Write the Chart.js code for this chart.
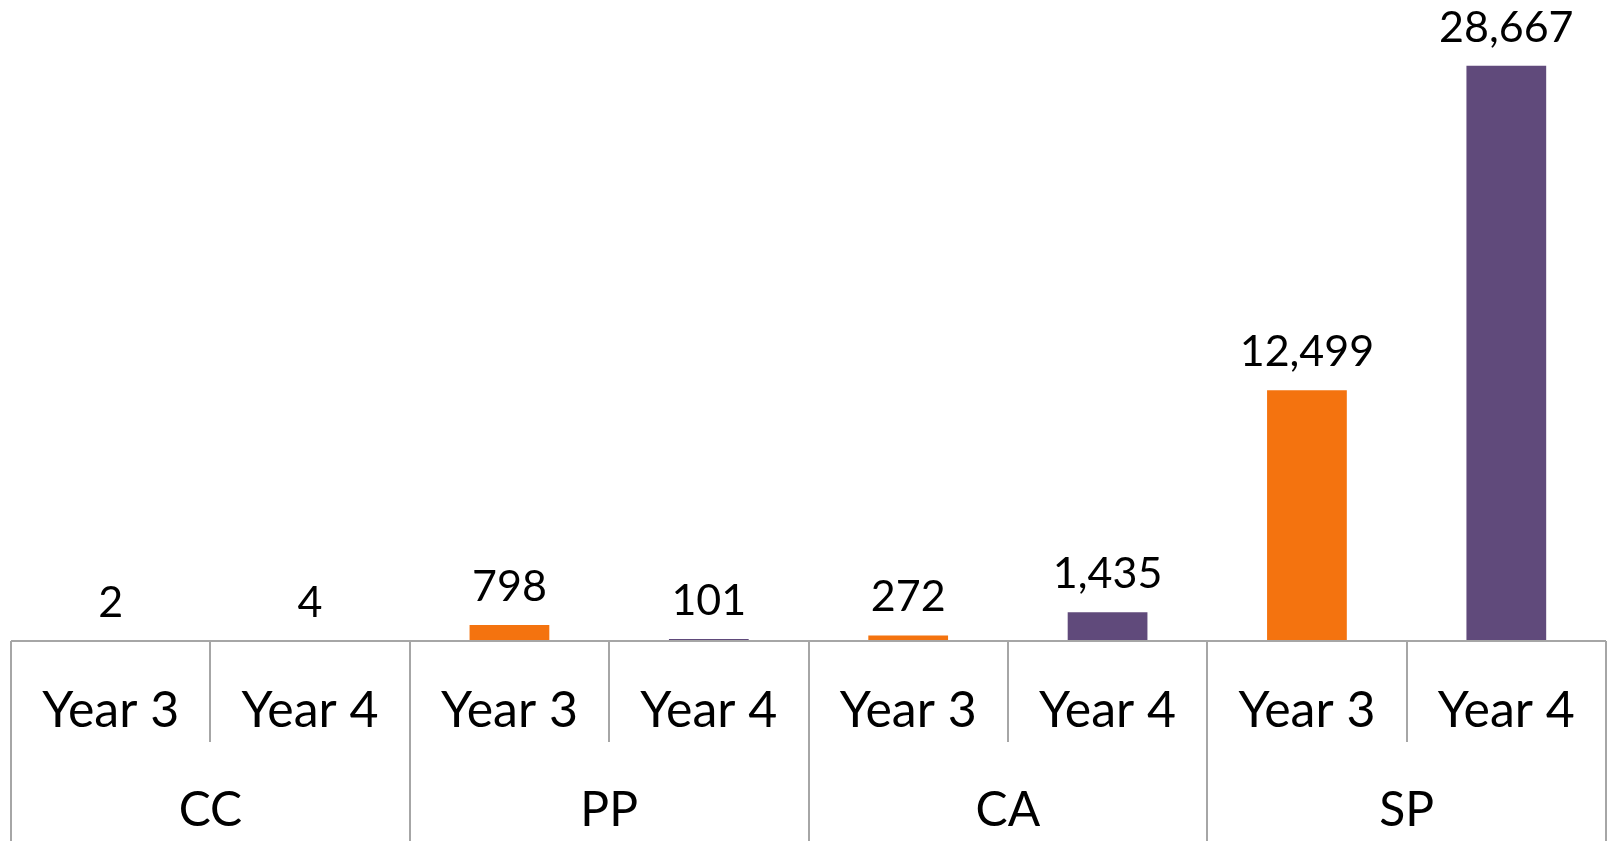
<!DOCTYPE html>
<html>
<head>
<meta charset="utf-8">
<script src="https://cdn.jsdelivr.net/npm/chart.js@4/dist/chart.umd.min.js"></script>
<style>
  html, body { margin: 0; padding: 0; background: #fff; }
  #wrap { width: 1608px; height: 841px; position: relative; }
</style>
</head>
<body>
<div id="wrap"><canvas id="chart"></canvas></div>
<script>
// groups and the two years shown under each
const groups = ['CC', 'PP', 'CA', 'SP'];
const years = ['Year 3', 'Year 4'];
const year3 = [2, 798, 272, 12499];
const year4 = [4, 101, 1435, 28667];

// one category per group/year pair
const labels = [];
const year3Data = [];
const year4Data = [];
groups.forEach((g, i) => {
    labels.push(years[0]); year3Data.push(year3[i]); year4Data.push(null);
    labels.push(years[1]); year3Data.push(null); year4Data.push(year4[i]);
});

const FONT = 'Lato, "Open Sans", sans-serif';
const LINE = '#a6a6a6';

// draws the two-level category axis and the value labels
const axisPlugin = {
    id: 'axisPlugin',
    afterDatasetsDraw(chart) {
        const ctx = chart.ctx;
        const area = chart.chartArea;
        const x = chart.scales.x;
        const step = x.getPixelForValue(1) - x.getPixelForValue(0);
        const base = area.bottom;

        ctx.save();
        ctx.strokeStyle = LINE;
        ctx.lineWidth = 2;
        ctx.beginPath();
        ctx.moveTo(area.left, base);
        ctx.lineTo(area.right, base);
        for (let i = 0; i <= labels.length; i++) {
            const px = Math.round(x.getPixelForValue(i) - step / 2);
            ctx.moveTo(px, base);
            ctx.lineTo(px, i % 2 === 0 ? chart.height : base + 101);
        }
        ctx.stroke();

        ctx.fillStyle = '#000';
        ctx.textAlign = 'center';
        ctx.textBaseline = 'middle';
        ctx.font = '50px ' + FONT;
        labels.forEach((l, i) => ctx.fillText(l, x.getPixelForValue(i), base + 70));
        ctx.font = '48px ' + FONT;
        groups.forEach((g, i) => {
            const px = (x.getPixelForValue(i * 2) + x.getPixelForValue(i * 2 + 1)) / 2;
            ctx.fillText(g, px, base + 170);
        });

        ctx.font = '43px ' + FONT;
        chart.data.datasets.forEach((ds, di) => {
            const meta = chart.getDatasetMeta(di);
            meta.data.forEach((bar, i) => {
                const v = ds.data[i];
                if (v === null) return;
                ctx.fillText(v.toLocaleString('en-US'), bar.x, bar.y - 38);
            });
        });
        ctx.restore();
    }
};

new Chart(document.getElementById('chart').getContext('2d'), {
    type: 'bar',
    data: {
        labels: labels,
        datasets: [
            { label: 'Year 3', data: year3Data, backgroundColor: '#f4730f' },
            { label: 'Year 4', data: year4Data, backgroundColor: '#604a7b' }
        ]
    },
    options: {
        responsive: true,
        maintainAspectRatio: false,
        animation: false,
        categoryPercentage: 1,
        barPercentage: 0.4,
        layout: { padding: { left: 11, right: 2, top: 39, bottom: 200 } },
        plugins: { legend: { display: false }, tooltip: { enabled: false } },
        scales: {
            x: { display: false, stacked: true },
            y: { display: false, min: 0, max: 30000 }
        }
    },
    plugins: [axisPlugin]
});
</script>
</body>
</html>
